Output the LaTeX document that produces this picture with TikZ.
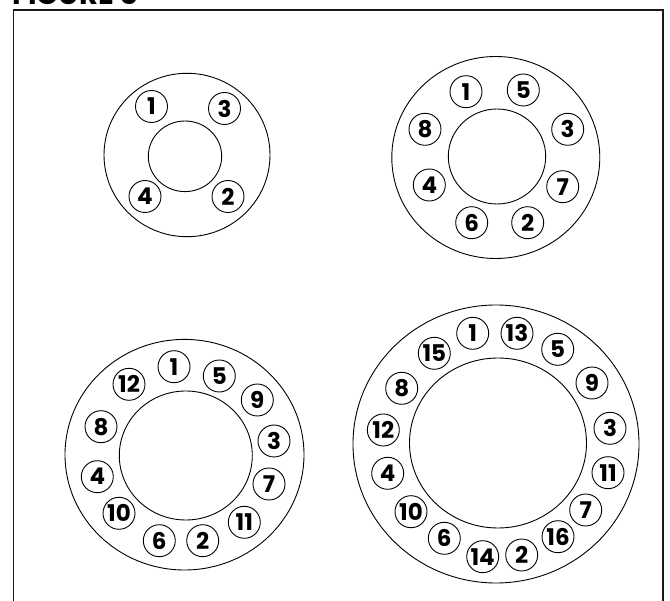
\documentclass[tikz,border=0pt]{standalone}
\usepackage{fontspec}
\setmainfont{Poppins}
\begin{document}
\begin{tikzpicture}[x=1pt,y=-1pt,
  ring/.style={draw=black,line width=0.9pt},
  bolt/.style={circle,draw=black,line width=0.9pt,minimum size=32pt,inner sep=0pt,
    font=\bfseries\fontsize{23}{23}\selectfont},
  frame/.style={draw=black!90,line width=1.4pt}]
\useasboundingbox (0,0) rectangle (670,601);
\clip (0,0) rectangle (670,601);
% title (cut off at top)
\node[anchor=base west,inner sep=0pt,font=\bfseries\fontsize{29}{29}\selectfont] (title) at (12,4.5) {FIGURE 5};
% frame
\draw[frame] (13.5,10) rectangle (663,610);
% top-left: 4 bolts
\draw[ring] (187,155) ellipse [x radius=83, y radius=81.7];
\draw[ring] (185,156.3) ellipse [x radius=36.7, y radius=35.3];
\node[bolt] (a1) at (151.5,106.5) {1};
\node[bolt] (a3) at (224.5,108.5) {3};
\node[bolt] (a4) at (145,196.5) {4};
\node[bolt] (a2) at (228,196.5) {2};
% top-right: 8 bolts
\draw[ring] (495.8,157.5) ellipse [x radius=104, y radius=101];
\draw[ring] (497,156.5) ellipse [x radius=48.7, y radius=47.5];
\node[bolt] (b1) at (466,91.7) {1};
\node[bolt] (b5) at (523.3,90) {5};
\node[bolt] (b3) at (567.7,129.3) {3};
\node[bolt] (b7) at (562.7,186.7) {7};
\node[bolt] (b2) at (527.7,222.7) {2};
\node[bolt] (b6) at (471.7,222.7) {6};
\node[bolt] (b4) at (429.3,185) {4};
\node[bolt] (b8) at (425,129.3) {8};
% bottom-left: 12 bolts
\draw[ring] (184.5,454.7) ellipse [x radius=119.5, y radius=115.3];
\draw[ring] (185.8,455.5) ellipse [x radius=66.5, y radius=64.5];
\node[bolt] (c1) at (174,366.7) {1};
\node[bolt] (c5) at (219.3,376) {5};
\node[bolt] (c9) at (257.3,400) {9};
\node[bolt] (c3) at (274,441) {3};
\node[bolt] (c7) at (269,484) {7};
\node[bolt] (c11) at (244.3,522.3) {11};
\node[bolt] (c2) at (202.7,540.7) {2};
\node[bolt] (c6) at (159.3,540.7) {6};
\node[bolt] (c10) at (119,513.3) {10};
\node[bolt] (c4) at (97.3,476.7) {4};
\node[bolt] (c8) at (101,426.7) {8};
\node[bolt] (c12) at (129,384.3) {12};
% bottom-right: 16 bolts
\draw[ring] (496,444) ellipse [x radius=143, y radius=139];
\draw[ring] (498,443) ellipse [x radius=88.5, y radius=85];
\node[bolt] (d1) at (472.7,333.3) {1};
\node[bolt] (d13) at (517,333.3) {13};
\node[bolt] (d5) at (557.7,349.3) {5};
\node[bolt] (d9) at (592,383) {9};
\node[bolt] (d3) at (610,428.3) {3};
\node[bolt] (d11) at (608,472.7) {11};
\node[bolt] (d7) at (585.7,510) {7};
\node[bolt] (d16) at (558,536.7) {16};
\node[bolt] (d2) at (521.7,555) {2};
\node[bolt] (d14) at (482.7,556.7) {14};
\node[bolt] (d6) at (444.3,538.3) {6};
\node[bolt] (d10) at (411,511.7) {10};
\node[bolt] (d4) at (387.7,473.3) {4};
\node[bolt] (d12) at (383.3,430) {12};
\node[bolt] (d8) at (401.7,388.3) {8};
\node[bolt] (d15) at (434.3,353.3) {15};
\end{tikzpicture}
\end{document}
